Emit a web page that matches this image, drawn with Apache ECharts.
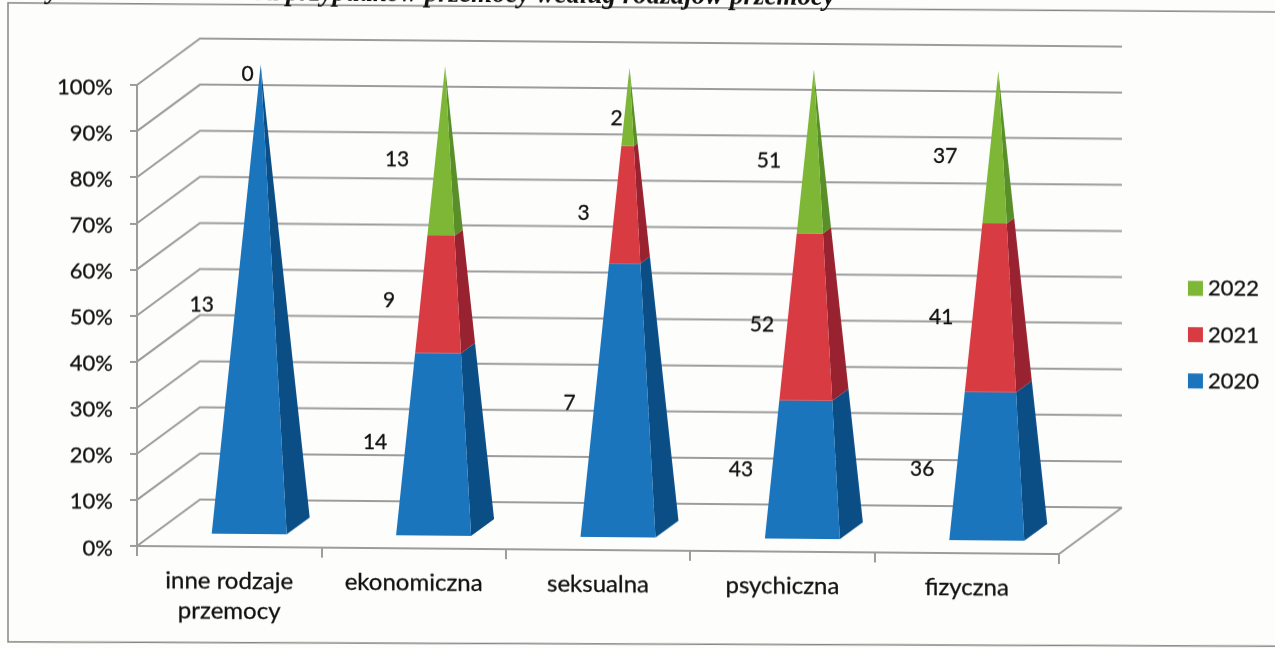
<!DOCTYPE html>
<html>
<head>
<meta charset="utf-8">
<title>Przemoc</title>
<script src="https://cdn.jsdelivr.net/npm/echarts@6/dist/echarts.min.js"></script>
<style>
    html, body { margin: 0; height: 100%; background: #fdfdfc; overflow: hidden; }
    /* the scan is slightly sheared, the horizontals run down to the right */
    #chart { position: absolute; left: 0; top: -20px; width: 1275px; height: 688px;
             transform: skewY(0.5deg); transform-origin: 137px 0; filter: blur(0.4px); }
</style>
</head>
<body>
<div id="chart"></div>
<script>
var categories = ['inne rodzaje\nprzemocy', 'ekonomiczna', 'seksualna', 'psychiczna', 'fizyczna'];
var years = ['2020', '2021', '2022'];
var values2020 = [13, 14, 7, 43, 36];
var values2021 = [0, 9, 3, 52, 41];
var values2022 = [0, 13, 2, 51, 37];
var axisTicks = [0, 10, 20, 30, 40, 50, 60, 70, 80, 90, 100];

// where the data labels sit, relative to the middle of their segment
var labelShift2020 = [[-59, 10], [-70, 5], [-60, 9], [-73, 8], [-76, 11]];
var labelShift2021 = [null, [-56, 11], [-46, 11], [-52, 13], [-57, 14]];
var labelShift2022 = [[-13, 10], [-48, 10], [-13, 12], [-45, 11], [-53, 11]];

var FONT = 'Lato, "Open Sans", sans-serif';
var TEXT = '#111111';
var LINE = '#9c9c9c';
var depthX = 63, depthY = 47;          // floor depth in px
var halfW = 37.5, halfDX = 11.5, halfDY = 8.5;  // pyramid base
var lift = 21.5;                       // pyramid centre above the front axis

var rows = [
    {name: '2020', values: values2020, shift: labelShift2020, front: '#1b75bc', side: '#0b4e86'},
    {name: '2021', values: values2021, shift: labelShift2021, front: '#d83b42', side: '#98222f'},
    {name: '2022', values: values2022, shift: labelShift2022, front: '#7db735', side: '#588f28'}
];

// percent stacked, each row gets its lower and upper share per category
var totals = categories.map(function (c, i) {
    return values2020[i] + values2021[i] + values2022[i];
});
var running = categories.map(function () { return 0; });
rows.forEach(function (row) {
    row.data = categories.map(function (c, i) {
        var low = running[i] / totals[i] * 100;
        running[i] += row.values[i];
        return [i, low, running[i] / totals[i] * 100, row.values[i]];
    });
});

function renderWall(params, api) {
    var cs = params.coordSys;
    var y = api.coord([0, api.value(0)])[1];
    var children = [{
        type: 'polyline',
        shape: {points: [[cs.x, y], [cs.x + depthX, y - depthY], [cs.x + cs.width + depthX, y - depthY]]},
        style: {fill: 'none', stroke: LINE, lineWidth: 2}
    }];
    if (api.value(0) === 0) {
        children.push({
            type: 'line',
            shape: {x1: cs.x + cs.width, y1: y, x2: cs.x + cs.width + depthX, y2: y - depthY},
            style: {stroke: LINE, lineWidth: 2}
        });
    }
    return {type: 'group', children: children};
}

function makeRender(row) {
    return function (params, api) {
        var i = api.value(0);
        var base = api.coord([i, 0]);
        var cx = base[0] + depthX / 2;

        function ring(pct) {
            var k = 1 - pct / 100;
            var y = api.coord([i, pct])[1] - lift;
            return {
                frontLeft: [cx - (halfW + halfDX) * k, y + halfDY * k],
                frontRight: [cx + (halfW - halfDX) * k, y + halfDY * k],
                backRight: [cx + (halfW + halfDX) * k, y - halfDY * k],
                mid: y
            };
        }

        var low = ring(api.value(1));
        var high = ring(api.value(2));
        var children = [];
        if (api.value(2) > api.value(1)) {
            children.push({
                type: 'polygon',
                shape: {points: [low.frontRight, low.backRight, high.backRight, high.frontRight]},
                style: {fill: row.side}
            }, {
                type: 'polygon',
                shape: {points: [low.frontLeft, low.frontRight, high.frontRight, high.frontLeft]},
                style: {fill: row.front}
            });
        }
        var shift = row.shift[i];
        if (shift) {
            children.push({
                type: 'text',
                z2: 10,
                x: cx + shift[0],
                y: (low.mid + high.mid) / 2 + shift[1],
                style: {
                    text: String(api.value(3)),
                    fill: TEXT,
                    stroke: TEXT,
                    lineWidth: 0.3,
                    font: '21px ' + FONT,
                    align: 'center',
                    verticalAlign: 'middle'
                }
            });
        }
        return {type: 'group', children: children};
    };
}

var series = [{
    type: 'custom',
    name: 'siatka',
    silent: true,
    z: 1,
    clip: false,
    coordinateSystem: 'cartesian2d',
    data: axisTicks.map(function (t) { return [t]; }),
    encode: {y: 0},
    renderItem: renderWall
}];
rows.forEach(function (row) {
    series.push({
        type: 'custom',
        name: row.name,
        z: 5,
        clip: false,
        coordinateSystem: 'cartesian2d',
        itemStyle: {color: row.front},
        data: row.data,
        encode: {x: 0, y: [1, 2]},
        renderItem: makeRender(row)
    });
});

var myChart = echarts.init(document.getElementById('chart'));
myChart.setOption({
    animation: false,
    backgroundColor: 'transparent',
    title: {
        text: 'Wykres nr 3. Struktura przypadków przemocy według rodzajów przemocy',
        right: 435,
        top: -6,
        textStyle: {fontFamily: '"Liberation Serif", serif', fontStyle: 'italic', fontWeight: 'bold', fontSize: 27, color: '#111'}
    },
    grid: {left: 137, top: 105, width: 922, height: 461},
    legend: {
        data: years.slice().reverse(),
        orient: 'vertical',
        left: 1183,
        top: 283,
        icon: 'rect',
        itemWidth: 15,
        itemHeight: 15,
        itemGap: 24,
        selectedMode: false,
        textStyle: {fontFamily: FONT, fontSize: 22, color: TEXT, textBorderColor: TEXT, textBorderWidth: 0.3}
    },
    xAxis: {
        type: 'category',
        data: categories,
        axisLine: {lineStyle: {color: LINE, width: 2}},
        axisTick: {show: true, alignWithLabel: false, length: 10, lineStyle: {color: LINE, width: 2}},
        axisLabel: {fontFamily: FONT, fontSize: 24, color: TEXT, margin: 19, lineHeight: 30, interval: 0, textBorderColor: TEXT, textBorderWidth: 0.3}
    },
    yAxis: {
        type: 'value',
        min: 0,
        max: 100,
        interval: 10,
        axisLine: {show: true, lineStyle: {color: LINE, width: 2}},
        axisTick: {show: true, length: 7, lineStyle: {color: LINE, width: 2}},
        splitLine: {show: false},
        axisLabel: {
            formatter: '{pct|{value}%}',
            margin: 24,
            rich: {pct: {fontFamily: FONT, fontSize: 22, color: TEXT, padding: [5, 0, 0, 0], textBorderColor: TEXT, textBorderWidth: 0.3}}
        }
    },
    graphic: [{
        type: 'polyline',
        silent: true,
        shape: {points: [[1300, 22], [8, 24], [8, 663], [1300, 656]]},
        style: {fill: 'none', stroke: '#858585', lineWidth: 1.5}
    }],
    series: series
});
</script>
</body>
</html>
